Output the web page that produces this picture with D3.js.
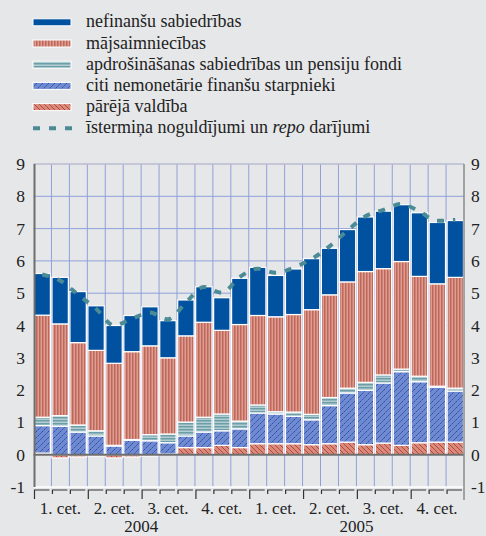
<!DOCTYPE html>
<html>
<head>
<meta charset="utf-8">
<script src="https://cdn.jsdelivr.net/npm/d3@7"></script>
<style>
  body { margin: 0; background: #e6e7e9; }
  svg { display: block; }
</style>
</head>
<body>
<svg id="chart" width="486" height="536"></svg>
<script>
// mēneši 2004-2005
var months = d3.range(24);
var quarters = ["1. cet.", "2. cet.", "3. cet.", "4. cet.", "1. cet.", "2. cet.", "3. cet.", "4. cet."];
var years = ["2004", "2005"];
var yTicks = [-1, 0, 1, 2, 3, 4, 5, 6, 7, 8, 9];

var valdiba = [0.05, -0.10, -0.07, -0.04, -0.10, -0.07, -0.04, 0.02, 0.22, 0.22, 0.29, 0.22,
               0.34, 0.34, 0.34, 0.31, 0.34, 0.39, 0.31, 0.36, 0.29, 0.37, 0.39, 0.39];
var citi    = [0.85, 0.88, 0.70, 0.58, 0.27, 0.45, 0.43, 0.35, 0.36, 0.48, 0.45, 0.58,
               0.95, 0.92, 0.85, 0.77, 1.18, 1.52, 1.68, 1.86, 2.28, 1.89, 1.70, 1.58];
var apdros  = [0.26, 0.33, 0.22, 0.16, 0.02, 0.02, 0.19, 0.27, 0.43, 0.46, 0.52, 0.24,
               0.25, 0.07, 0.13, 0.17, 0.25, 0.15, 0.25, 0.25, 0.08, 0.17, 0.03, 0.09];
var majs    = [3.16, 2.84, 2.55, 2.49, 2.54, 2.72, 2.75, 2.36, 2.67, 2.94, 2.59, 2.99,
               2.77, 2.94, 3.02, 3.24, 3.18, 3.29, 3.43, 3.29, 3.33, 3.09, 3.17, 3.43];
var nefin   = [1.29, 1.44, 1.58, 1.38, 1.17, 1.12, 1.21, 1.15, 1.11, 1.10, 1.01, 1.43,
               1.49, 1.28, 1.41, 1.58, 1.44, 1.62, 1.69, 1.78, 1.76, 1.97, 1.90, 1.76];
var isterm  = [5.58, 5.39, 4.95, 4.52, 4.00, 4.21, 4.40, 4.19, 4.71, 5.19, 5.01, 5.50,
               5.76, 5.63, 5.79, 6.06, 6.45, 6.94, 7.38, 7.58, 7.76, 7.53, 7.24, 7.27];

var keys = ["valdiba", "citi", "apdros", "majs", "nefin"];
var table = months.map(function(m, i){
  return { m: m, valdiba: valdiba[i], citi: citi[i], apdros: apdros[i], majs: majs[i], nefin: nefin[i] };
});

var svg = d3.select("#chart");
var serif = "'Liberation Serif', 'Times New Roman', Times, serif";
var plotL = 33.5, plotR = 464, plotT = 164, plotB = 487;

var xEdge = d3.scaleLinear().domain([0, 24]).range([plotL, plotR]);
var x = d3.scaleBand().domain(months).range([plotL, plotR]).paddingInner(0.09).paddingOuter(0.03);
var y = d3.scaleLinear().domain([-1, 9]).range([plotB, plotT]);

// raksti
var defs = svg.append("defs");
var pm = defs.append("pattern").attr("id", "p_majs").attr("patternUnits", "userSpaceOnUse")
  .attr("width", 3).attr("height", 3);
pm.append("rect").attr("width", 3).attr("height", 3).attr("fill", "#dc9e90");
pm.append("rect").attr("width", 1.5).attr("height", 3).attr("fill", "#c0665a");

var pa = defs.append("pattern").attr("id", "p_apdros").attr("patternUnits", "userSpaceOnUse")
  .attr("width", 3).attr("height", 3);
pa.append("rect").attr("width", 3).attr("height", 3).attr("fill", "#b3ced2");
pa.append("rect").attr("width", 3).attr("height", 1.5).attr("fill", "#6b9ea6");

var pc = defs.append("pattern").attr("id", "p_citi").attr("patternUnits", "userSpaceOnUse")
  .attr("width", 6).attr("height", 6);
pc.append("rect").attr("width", 6).attr("height", 6).attr("fill", "#7089cf");
pc.append("path").attr("d", "M0,6L6,0M-1,1L1,-1M5,7L7,5")
  .attr("stroke", "#1d4fb2").attr("stroke-width", 1).attr("stroke-dasharray", "2,1");

var pv = defs.append("pattern").attr("id", "p_valdiba").attr("patternUnits", "userSpaceOnUse")
  .attr("width", 5).attr("height", 5);
pv.append("rect").attr("width", 5).attr("height", 5).attr("fill", "#d98a7b");
pv.append("path").attr("d", "M0,0L5,5M-1,4L1,6M4,-1L6,1")
  .attr("stroke", "#b2473d").attr("stroke-width", 1);

var fills = { nefin: "#00519f", majs: "url(#p_majs)", apdros: "url(#p_apdros)",
              citi: "url(#p_citi)", valdiba: "url(#p_valdiba)" };

// režģis
var grid = svg.append("g");
grid.selectAll(".vg").data(d3.range(1, 24)).enter().append("line")
  .attr("x1", function(d){ return xEdge(d); }).attr("x2", function(d){ return xEdge(d); })
  .attr("y1", plotT).attr("y2", plotB)
  .attr("stroke", "#8fa0da").attr("stroke-width", 1);
grid.selectAll(".hg").data([1, 2, 3, 4, 5, 6, 7, 8]).enter().append("line")
  .attr("x1", plotL).attr("x2", plotR)
  .attr("y1", function(d){ return y(d); }).attr("y2", function(d){ return y(d); })
  .attr("stroke", "#8fa0da").attr("stroke-width", 1);
grid.append("line").attr("x1", plotL).attr("x2", plotR).attr("y1", y(9)).attr("y2", y(9))
  .attr("stroke", "#b9bdd0").attr("stroke-width", 1.5);
grid.append("line").attr("x1", plotL).attr("x2", plotR).attr("y1", y(-1)).attr("y2", y(-1))
  .attr("stroke", "#ffffff").attr("stroke-width", 1.5);

// stabiņi
var series = d3.stack().keys(keys).offset(d3.stackOffsetDiverging)(table);
svg.append("g").selectAll("g").data(series).enter().append("g")
  .attr("fill", function(d){ return fills[d.key]; })
  .selectAll("rect").data(function(d){ return d; }).enter().append("rect")
  .attr("x", function(d){ return x(d.data.m); })
  .attr("width", x.bandwidth())
  .attr("y", function(d){ return y(Math.max(d[0], d[1])); })
  .attr("height", function(d){ return Math.abs(y(d[0]) - y(d[1])); })
  .attr("stroke", "#ffffff").attr("stroke-width", 1.2);

// ass pie nulles
svg.append("line").attr("x1", plotL).attr("x2", plotR).attr("y1", y(0)).attr("y2", y(0))
  .attr("stroke", "#6e6e6e").attr("stroke-width", 2);
svg.append("line").attr("x1", plotL + 1).attr("x2", plotL + 1).attr("y1", plotT).attr("y2", plotB)
  .attr("stroke", "#6e6e6e").attr("stroke-width", 2);
svg.append("line").attr("x1", plotR).attr("x2", plotR).attr("y1", plotT).attr("y2", 500)
  .attr("stroke", "#8a8a8a").attr("stroke-width", 1.5);

// līnija
var line = d3.line()
  .x(function(d, i){ return x(i) + x.bandwidth() / 2; })
  .y(function(d){ return y(d); })
  .curve(d3.curveMonotoneX);
svg.append("path").datum(isterm)
  .attr("d", line)
  .attr("fill", "none")
  .attr("stroke", "#4b8b95")
  .attr("stroke-width", 4)
  .attr("stroke-dasharray", "7,9");

// y ass teksti
svg.append("g").selectAll("text").data(yTicks).enter().append("text")
  .attr("x", 25).attr("y", function(d){ return y(d) + 6; })
  .attr("text-anchor", "end").attr("font-size", 17.5).attr("fill", "#222")
  .style("font-family", serif)
  .text(function(d){ return d; });
svg.append("g").selectAll("text").data(yTicks).enter().append("text")
  .attr("x", 471).attr("y", function(d){ return y(d) + 6; })
  .attr("text-anchor", "start").attr("font-size", 17.5).attr("fill", "#222")
  .style("font-family", serif)
  .text(function(d){ return d; });

// x ass iedaļas
var axY = 490;
var xt = svg.append("g").attr("stroke", "#333").attr("stroke-width", 1.2).attr("fill", "none");
xt.selectAll("path").data(months).enter().append("path")
  .attr("d", function(d){
    var x0 = xEdge(d) + 1, x1 = xEdge(d + 1) - 2;
    var len = (d % 3 === 0) ? 9 : 4;
    return "M" + x0 + "," + (axY + len) + "V" + axY + "H" + x1;
  });

svg.append("g").selectAll("text").data(quarters).enter().append("text")
  .attr("x", function(d, i){ return xEdge(i * 3 + 1.5); })
  .attr("y", 514)
  .attr("text-anchor", "middle").attr("font-size", 17).attr("fill", "#222")
  .style("font-family", serif)
  .text(function(d){ return d; });
svg.append("g").selectAll("text").data(years).enter().append("text")
  .attr("x", function(d, i){ return xEdge(i * 12 + 6); })
  .attr("y", 532)
  .attr("text-anchor", "middle").attr("font-size", 17).attr("fill", "#222")
  .style("font-family", serif)
  .text(function(d){ return d; });

// leģenda
var legendItems = [
  { key: "nefin", label: "nefinanšu sabiedrības" },
  { key: "majs", label: "mājsaimniecības" },
  { key: "apdros", label: "apdrošināšanas sabiedrības un pensiju fondi" },
  { key: "citi", label: "citi nemonetārie finanšu starpnieki" },
  { key: "valdiba", label: "pārējā valdība" },
  { key: "line", label: "" }
];
var lg = svg.append("g");
var rowY = function(i){ return 22.3 + i * 21.2; };
legendItems.forEach(function(it, i){
  var cy = rowY(i);
  if (it.key === "line") {
    lg.append("line").attr("x1", 33).attr("x2", 72).attr("y1", cy).attr("y2", cy)
      .attr("stroke", "#4b8b95").attr("stroke-width", 4).attr("stroke-dasharray", "7,9");
    var t = lg.append("text").attr("x", 86).attr("y", cy + 5)
      .attr("font-size", 18).attr("fill", "#222").style("font-family", serif);
    t.append("tspan").text("īstermiņa noguldījumi un ");
    t.append("tspan").attr("font-style", "italic").text("repo");
    t.append("tspan").text(" darījumi");
  } else {
    lg.append("rect").attr("x", 33).attr("y", cy - 3.5).attr("width", 38).attr("height", 7)
      .attr("fill", fills[it.key]).attr("stroke", "#ffffff").attr("stroke-width", 1);
    lg.append("text").attr("x", 86).attr("y", cy + 5)
      .attr("font-size", 18).attr("fill", "#222").style("font-family", serif).text(it.label);
  }
});
</script>
</body>
</html>
